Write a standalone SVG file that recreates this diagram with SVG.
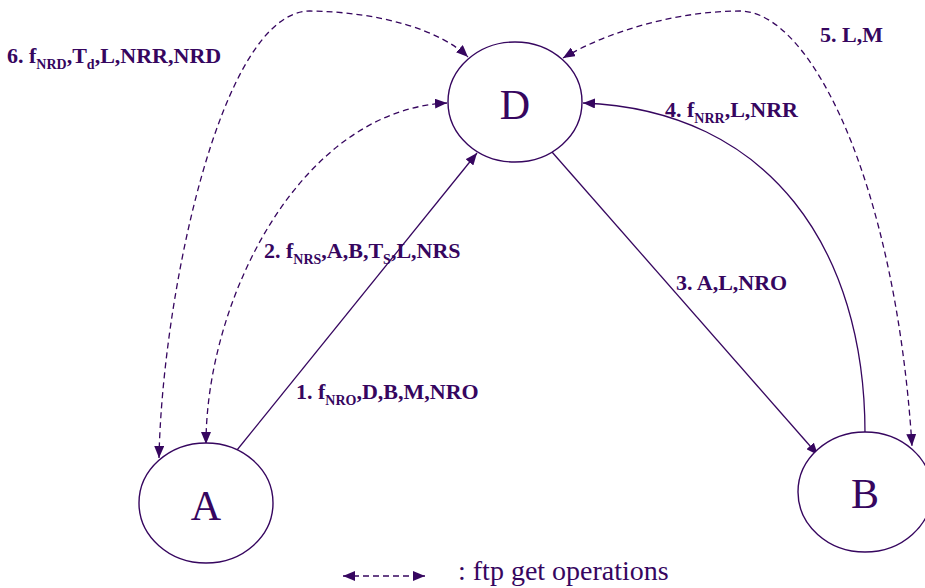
<svg xmlns="http://www.w3.org/2000/svg" width="925" height="588" viewBox="0 0 925 588">
<style>
.node{fill:#fff;stroke:#36065f;stroke-width:1.4}
.nl{font-family:"Liberation Serif",serif;font-size:42px;fill:#36065f;text-anchor:middle}
.lb{font-family:"Liberation Serif",serif;font-size:22px;font-weight:bold;fill:#36065f}
.sb{font-size:14px}
.c{fill:none;stroke:#36065f;stroke-width:1.3}
.d{stroke-dasharray:6 4}
.leg{font-family:"Liberation Serif",serif;font-size:28px;fill:#36065f}
</style>
<defs>
<marker id="ah" viewBox="0 0 12 10" refX="12" refY="5" markerWidth="12" markerHeight="10" markerUnits="userSpaceOnUse" orient="auto-start-reverse">
<path d="M0,0 L12,5 L0,10 Z" fill="#36065f"/>
</marker>
</defs>
<rect width="925" height="588" fill="#fff"/>
<g id="connectors">
<path class="c" d="M233,455 L477,153" marker-end="url(#ah)"/>
<path class="c d" d="M206,444 C206,300 300,110 447,103" marker-start="url(#ah)" marker-end="url(#ah)"/>
<path class="c d" d="M159,458 C162,300 220,11 310,11 C380,12 440,30 468,57" marker-start="url(#ah)" marker-end="url(#ah)"/>
<path class="c d" d="M563,58 C610,30 680,11 740,11 C810,11 895,180 912,446" marker-start="url(#ah)" marker-end="url(#ah)"/>
<path class="c" d="M865,433 C865,250 770,110 583,103" marker-end="url(#ah)"/>
<path class="c" d="M552,152 L818,455" marker-end="url(#ah)"/>
<path class="c d" d="M343,576 L425,576" marker-start="url(#ah)" marker-end="url(#ah)"/>
</g>
<g id="node-D"><ellipse class="node" cx="515" cy="102" rx="67" ry="60"/><text class="nl" x="515" y="119">D</text></g>
<g id="node-A"><ellipse class="node" cx="206" cy="503" rx="67" ry="60"/><text class="nl" x="206" y="520">A</text></g>
<g id="node-B"><ellipse class="node" cx="865" cy="492" rx="67" ry="60"/><text class="nl" x="865" y="508">B</text></g>
<g id="labels">
<text class="lb" x="7" y="63">6. f<tspan class="sb" dy="6">NRD</tspan><tspan dy="-6">,T</tspan><tspan class="sb" dy="6">d</tspan><tspan dy="-6">,L,NRR,NRD</tspan></text>
<text class="lb" x="264" y="258">2. f<tspan class="sb" dy="6">NRS</tspan><tspan dy="-6">,A,B,T</tspan><tspan class="sb" dy="6">S</tspan><tspan dy="-6">,L,NRS</tspan></text>
<text class="lb" x="820" y="42">5. L,M</text>
<text class="lb" x="665" y="117">4. f<tspan class="sb" dy="6">NRR</tspan><tspan dy="-6">,L,NRR</tspan></text>
<text class="lb" x="676" y="290">3. A,L,NRO</text>
<text class="lb" x="296" y="399">1. f<tspan class="sb" dy="6">NRO</tspan><tspan dy="-6">,D,B,M,NRO</tspan></text>
<text class="leg" x="458" y="580">: ftp get operations</text>
</g>
</svg>
